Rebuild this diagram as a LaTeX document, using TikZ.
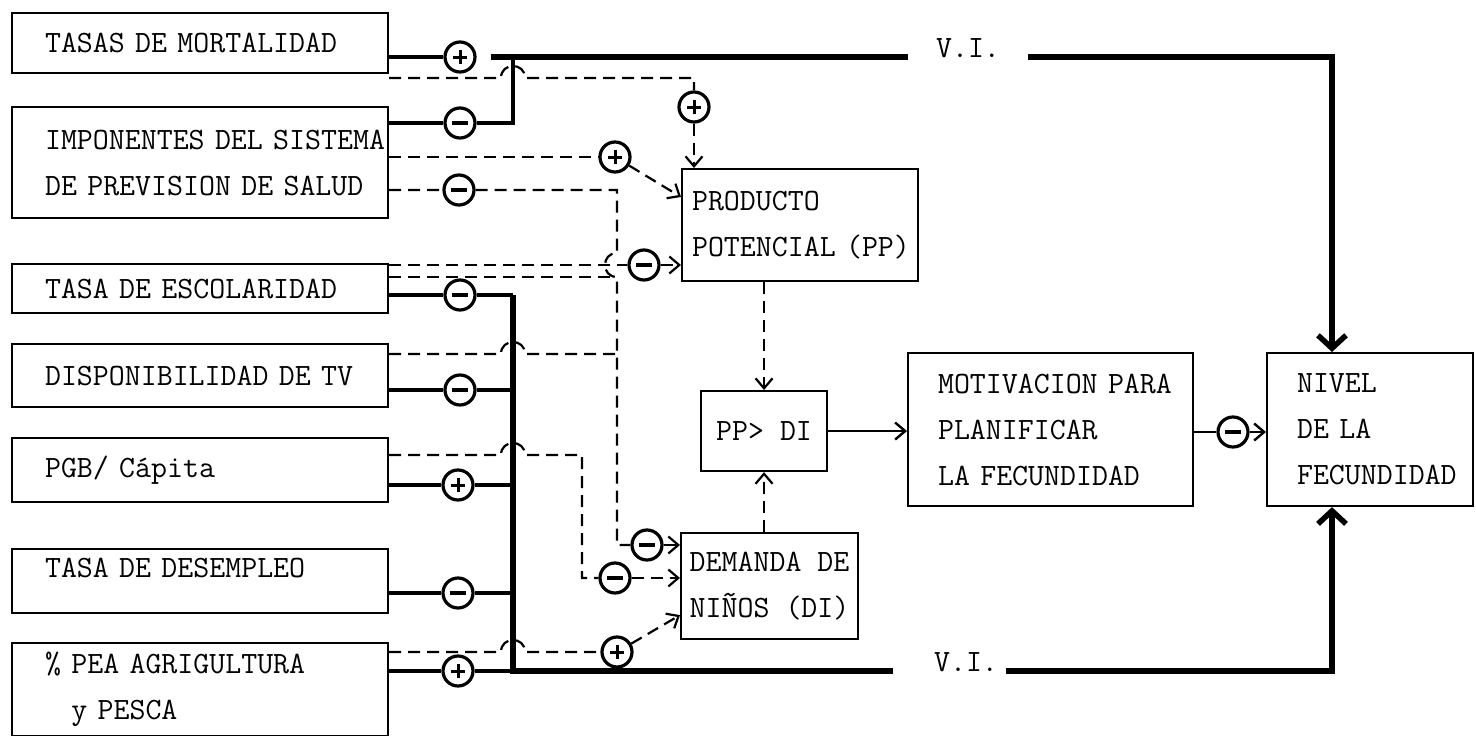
\documentclass[tikz,border=0pt]{standalone}
\usepackage{tikz}
\usetikzlibrary{arrows.meta}
\DeclareRobustCommand{\boxfont}{\fontsize{31}{46}\selectfont\ttfamily}

\begin{document}
\begin{tikzpicture}[
  x=1pt, y=-1pt,
  font=\boxfont,
  >={Straight Barb[length=10pt,width=17pt]},
  box/.style={draw, line width=2.1pt, anchor=north west, inner ysep=0pt, align=left},
  inbox/.style={box, minimum width=376pt, text width=310pt, inner xsep=33pt},
  sgn/.style={circle, draw, line width=3.2pt, fill=white, minimum size=30pt, inner sep=0pt},
  sgnplus/.style={sgn, path picture={
    \draw[line width=3pt] ([xshift=-7pt]path picture bounding box.center) -- ([xshift=7pt]path picture bounding box.center)
      ([yshift=-7pt]path picture bounding box.center) -- ([yshift=7pt]path picture bounding box.center);}},
  sgnminus/.style={sgn, path picture={
    \draw[line width=3.2pt] ([xshift=-8pt]path picture bounding box.center) -- ([xshift=8pt]path picture bounding box.center);}},
  feed/.style={line width=3.4pt},
  heavy/.style={line width=5.5pt},
  infl/.style={line width=2.2pt, dash pattern=on 12pt off 7pt},
  link/.style={line width=2.4pt},
  bigtip/.style={-{Straight Barb[length=13pt,width=28pt]}},
  hop/.style={to path={-- ([xshift=-12pt]\tikztotarget) .. controls +(0,-16) and +(0,-16) .. ([xshift=12pt]\tikztotarget)}},
  vhop/.style={to path={-- ([yshift=12pt]\tikztotarget) .. controls +(-16,0) and +(-16,0) .. ([yshift=-12pt]\tikztotarget)}}]

\useasboundingbox (0,0) rectangle (1476,736);

% inputs
\node[inbox, minimum height=60pt] (mort) at (11,12) {TASAS DE MORTALIDAD};
\node[inbox, minimum height=111pt] (imp) at (11,106) {\mbox{IMPONENTES DEL SISTEMA}\\\mbox{DE PREVISION DE SALUD}};
\node[inbox, minimum height=49pt] (esc) at (11,263) {TASA DE ESCOLARIDAD};
\node[inbox, minimum height=63pt] (tv) at (11,343) {\mbox{DISPONIBILIDAD DE TV}};
\node[inbox, minimum height=64pt] (pgb) at (11,437) {PGB/ Cápita};
\node[inbox, minimum height=64pt, text depth=26pt] (des) at (11,548) {TASA DE DESEMPLEO};
\node[inbox, minimum height=93pt] (pea) at (11,642) {\% PEA AGRIGULTURA\\\hphantom{\%\ }y PESCA};

% intermediate and result boxes
\node[box, minimum width=236pt, minimum height=112pt, text width=216pt, inner xsep=10pt] (pp) at (681,168) {PRODUCTO\\\mbox{POTENCIAL (PP)}};
\node[box, align=center, minimum width=126pt, minimum height=80pt] (ppdi) at (700,390) {PP> DI};
\node[box, align=center, minimum width=177pt, minimum height=106pt] (di) at (680,532) {DEMANDA DE\\NIÑOS (DI)};
\node[box, minimum width=285pt, minimum height=153pt, text width=225pt, inner xsep=30pt] (motiv) at (907,352) {\mbox{MOTIVACION PARA}\\PLANIFICAR\\\mbox{LA FECUNDIDAD}};
\node[box, minimum width=206pt, minimum height=153pt, text width=146pt, inner xsep=30pt] (nivel) at (1266,352) {NIVEL\\DE LA\\\mbox{FECUNDIDAD}};

\node[anchor=base, inner sep=0pt] (viTop) at (968,57) {V.I.};
\node[anchor=base, inner sep=0pt] (viBot) at (966,671) {V.I.};

% signs
\node[sgnplus]  (sMort)   at (460,57)  {};
\node[sgnminus] (sImp)    at (460,123) {};
\node[sgnplus]  (sImpPP)  at (615,157) {};
\node[sgnminus] (sImpDI)  at (459,190) {};
\node[sgnplus]  (sMortPP) at (694,107) {};
\node[sgnminus] (sEscPP)  at (644,265) {};
\node[sgnminus] (sEsc)    at (460,295) {};
\node[sgnminus] (sTv)     at (460,390) {};
\node[sgnplus]  (sPgb)    at (458,485) {};
\node[sgnminus] (sDes)    at (458,593) {};
\node[sgnplus]  (sPea)    at (458,671) {};
\node[sgnminus] (sDI)     at (647,545) {};
\node[sgnminus] (sPgbDI)  at (615,578) {};
\node[sgnplus]  (sPeaDI)  at (617,652) {};
\node[sgnminus] (sMotiv)  at (1233,432) {};

\coordinate (busTop) at (513,57);
\coordinate (busBot) at (513,671);
\coordinate (hMort) at (513,78);
\coordinate (hEsc) at (617,265);
\coordinate (jEsc) at (617,277);
\coordinate (hTv) at (513,354);
\coordinate (hPgb) at (513,455);
\coordinate (kPgb) at (582,455);
\coordinate (hPea) at (513,652);

% solid lines (V.I.)
\draw[feed] (mort.east |- sMort) -- (sMort);
\draw[heavy] ([xshift=14pt]sMort.east) -- ([xshift=-28pt]viTop.base west);
\draw[feed] (imp.east |- sImp) -- (sImp) -| (busTop);
\foreach \s/\b in {sEsc/esc, sTv/tv, sPgb/pgb, sDes/des, sPea/pea}
  \draw[feed] (\b.east |- \s) -- (\s) -- (\s -| busBot);
\draw[heavy] (busBot |- sEsc) -- (busBot) -- ([xshift=-41pt]viBot.base west);
\draw[heavy, bigtip] ([xshift=28pt]viTop.base east) -| ([xshift=66pt]nivel.north west);
\draw[heavy, bigtip] ([xshift=8pt]viBot.base east) -| ([xshift=66pt]nivel.south west);

% dashed lines to PP
\draw[infl] (mort.east |- hMort) to[hop] (hMort) -| (sMortPP);
\draw[infl,->] (sMortPP) -- (sMortPP |- pp.north);
\draw[infl] (imp.east |- sImpPP) -- (sImpPP);
\draw[infl,->] (sImpPP) -- ([yshift=-29pt]pp.north west);
\draw[infl] (esc.east |- hEsc) -- (sEscPP);
\draw[infl,->] (sEscPP) -- (sEscPP -| pp.west);

% dashed lines to DI
\draw[infl] (imp.east |- sImpDI) -- (sImpDI) -- (sImpDI -| hEsc) to[vhop] (hEsc) -- (hEsc |- sDI) -- (sDI);
\draw[infl,->] (sDI) -- (sDI -| di.west);
\draw[infl] (esc.east |- jEsc) -- (jEsc);
\draw[infl] (tv.east |- hTv) to[hop] (hTv) -- (hTv -| hEsc);
\draw[infl] (pgb.east |- hPgb) to[hop] (hPgb) -- (kPgb) |- (sPgbDI);
\draw[infl,->] (sPgbDI) -- (sPgbDI -| di.west);
\draw[infl] (pea.east |- hPea) to[hop] (hPea) -- (sPeaDI);
\draw[infl,->] (sPeaDI) -- ([yshift=25pt]di.south west);

% PP > DI and on
\draw[infl,->] (ppdi.north |- pp.south) -- (ppdi.north);
\draw[infl,->] (ppdi.south |- di.north) -- (ppdi.south);
\draw[link,->] (ppdi.east) -- (ppdi.east -| motiv.west);
\draw[link] (motiv.east |- sMotiv) -- (sMotiv);
\draw[link,->] (sMotiv) -- (sMotiv -| nivel.west);
\end{tikzpicture}
\end{document}
